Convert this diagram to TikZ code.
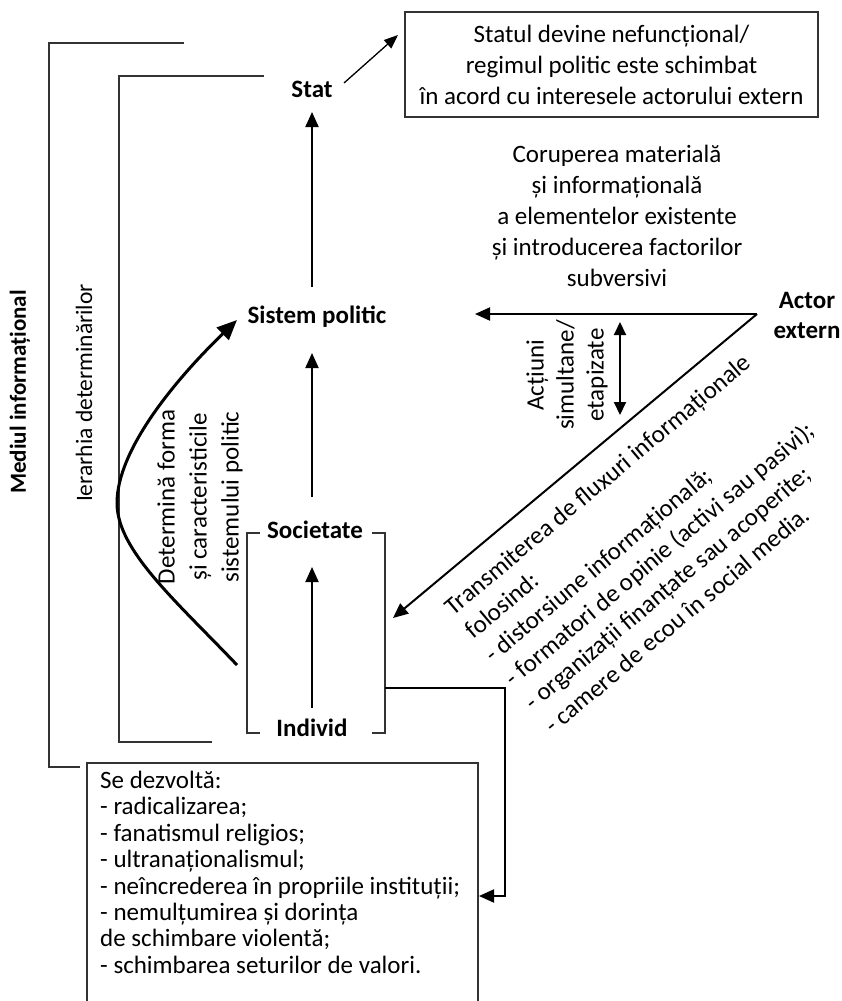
\documentclass[tikz,border=0pt]{standalone}
\usepackage{fontspec}
\setmainfont{Carlito}
\usetikzlibrary{arrows.meta}
\begin{document}
\begin{tikzpicture}[x=1pt,y=-1pt,
  txt/.style={font=\fontsize{25}{30}\selectfont, inner sep=0pt, align=center},
  btxt/.style={font=\fontsize{25}{30}\selectfont\bfseries, inner sep=0pt, align=center},
  frame/.style={line width=1.3pt, draw=black!80},
  arr/.style={line width=2pt, -{Triangle[length=15pt,width=13pt]}},
  thinarr/.style={line width=1.3pt, -{Triangle[length=14pt,width=11pt]}},
  dblarr/.style={line width=2pt, {Triangle[length=13pt,width=12pt]}-{Triangle[length=13pt,width=12pt]}},
  curvearr/.style={line width=3pt, -{Triangle[length=20pt,width=17pt]}},
]
\useasboundingbox (0,0) rectangle (842,1001);

% brackets (environment and hierarchy)
\draw[frame] (184,43) -- (49,43) -- (49,767) -- (80,767);
\draw[frame] (264,76) -- (119,76) -- (119,742) -- (212,742);
\node[btxt, font=\fontsize{23}{30}\selectfont\bfseries, rotate=90] (mediu) at (20,392) {Mediul informațional};
\node[txt, font=\fontsize{23.5}{30}\selectfont, rotate=90] (ierarhia) at (84,393) {Ierarhia determinărilor};

% main nodes
\node[btxt] (stat) at (312,89) {Stat};
\node[btxt] (sp) at (317,317) {Sistem politic};
\node[btxt] (soc) at (315,530) {Societate};
\node[btxt] (ind) at (312,728) {Individ};
\node[btxt] (actor) at (807,315) {Actor\\extern};

% top box
\node[txt, frame, minimum width=413pt, minimum height=105pt, font=\fontsize{25}{31}\selectfont] (topbox) at (611.5,64.5)
  {Statul devine nefuncțional/\\regimul politic este schimbat\\în acord cu interesele actorului extern};

% corruption text
\node[txt, font=\fontsize{25}{31.2}\selectfont] (corup) at (617,216)
  {Coruperea materială\\și informațională\\a elementelor existente\\și introducerea factorilor\\subversivi};

% curve label
\node[txt, rotate=90, font=\fontsize{25}{32}\selectfont] (determ) at (200,497)
  {Determină forma\\și caracteristicile\\sistemului politic};

% simultaneous actions label
\node[txt, rotate=90] (actiuni) at (567,375) {Acțiuni\\simultane/\\etapizate};

% diagonal text
\node[txt, rotate=40, align=left, anchor=west, font=\fontsize{25}{31}\selectfont] (flux) at (498,669)
  {Transmiterea de fluxuri informaționale\\folosind:\\- distorsiune informațională;\\- formatori de opinie (activi sau pasivi);\\- organizații finanțate sau acoperite;\\- camere de ecou în social media.};

% bracket around Societate / Individ
\draw[frame] (260,533) -- (247,533) -- (247,733) -- (260,733);
\draw[frame] (372,533) -- (385,533) -- (385,733) -- (372,733);

% bottom box (open at the bottom)
\draw[frame] (87,1010) -- (87,763) -- (478,763) -- (478,1010);
\node[txt, align=left, anchor=north west, font=\fontsize{25}{26.4}\selectfont] (dev) at (100,771)
  {Se dezvoltă:\\- radicalizarea;\\- fanatismul religios;\\- ultranaționalismul;\\- neîncrederea în propriile instituții;\\- nemulțumirea și dorința\\de schimbare violentă;\\- schimbarea seturilor de valori.};

% coordinates for connector ends
\coordinate (statS) at (312,112);
\coordinate (spN) at (312,287);
\coordinate (spS) at (312,353);
\coordinate (socN) at (312,497);
\coordinate (socS) at (312,567);
\coordinate (indN) at (312,708);
\coordinate (statE) at (344,83);
\coordinate (boxTip) at (398,35);
\coordinate (actW) at (757,314);
\coordinate (spE) at (475,314);
\coordinate (indTip) at (393,618);
\coordinate (brR) at (385,688);
\coordinate (devE) at (479,896);
\coordinate (curveA) at (237,665);
\coordinate (curveB) at (237,320);

% connectors
\draw[arr] (spN) -- (statS);
\draw[arr] (socN) -- (spS);
\draw[arr] (indN) -- (socS);
\draw[thinarr] (statE) -- (boxTip);
\draw[arr] (actW) -- (spE);
\draw[arr] (actW) -- (indTip);
\draw[dblarr] (620,322) -- (620,415);
\draw[curvearr] (curveA) .. controls (175,600) and (117,550) .. (117,503)
   .. controls (117,450) and (175,380) .. (curveB);
\draw[arr] (brR) -- (505,688) -- (505,896) -- (devE);
\end{tikzpicture}
\end{document}
